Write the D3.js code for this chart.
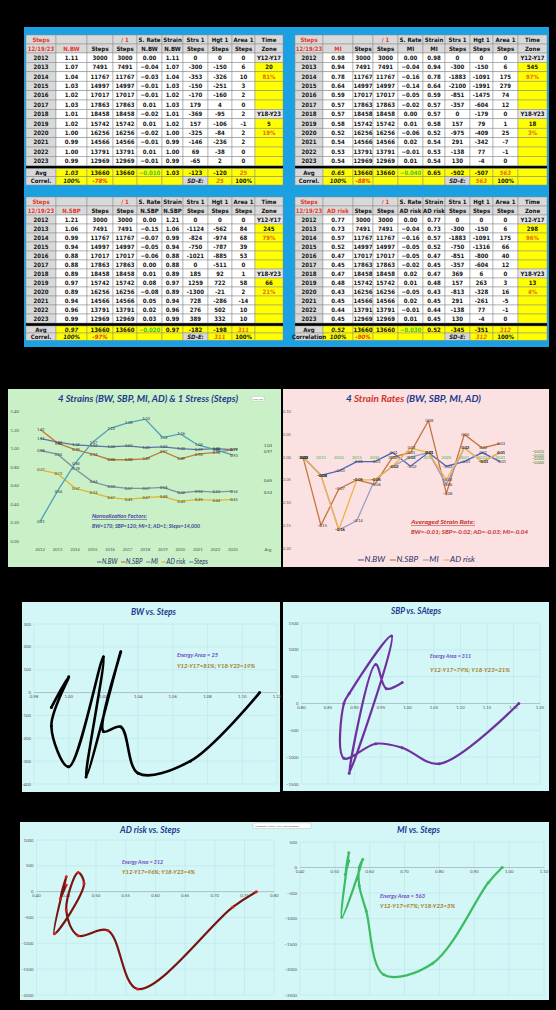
<!DOCTYPE html>
<html><head><meta charset="utf-8">
<script src="https://cdn.jsdelivr.net/npm/d3@7"></script>
<style>
html,body{margin:0;padding:0;background:#000;}
svg{display:block;}
.tb text{font-family:"Liberation Sans Narrow","DejaVu Sans Condensed","Liberation Sans",Arial,sans-serif;font-weight:bold;font-size:6px;}
.ch text{font-family:"Lato","Open Sans","Liberation Sans",sans-serif;}
</style></head><body>
<svg id="c" width="556" height="1010"></svg>
<script>
// ---------- data ----------
const years = [2012,2013,2014,2015,2016,2017,2018,2019,2020,2021,2022,2023];
const steps = [3000,7491,11767,14997,17017,17863,18458,15742,16256,14566,13791,12969];
const stepsNorm = [0.21,0.54,0.84,1.07,1.22,1.28,1.32,1.12,1.16,1.04,0.99,0.93];

const nBW   = [1.11,1.07,1.04,1.03,1.02,1.03,1.01,1.02,1.00,0.99,1.00,0.99];
const nSBP  = [1.21,1.06,0.99,0.94,0.88,0.88,0.89,0.97,0.89,0.94,0.96,0.99];
const mi    = [0.98,0.94,0.78,0.64,0.59,0.57,0.57,0.58,0.52,0.54,0.53,0.54];
const adRisk= [0.77,0.73,0.57,0.52,0.47,0.45,0.47,0.48,0.43,0.45,0.44,0.45];

const rateBW  = [0.00,-0.04,-0.03,-0.01,-0.01,0.01,-0.02,0.01,-0.02,-0.01,0.01,-0.01];
const rateSBP = [0.00,-0.15,-0.07,-0.05,-0.06,0.00,0.01,0.08,-0.08,0.05,0.02,0.03];
const rateMI  = [0.00,-0.04,-0.16,-0.14,-0.05,-0.02,0.00,0.01,-0.06,0.02,-0.01,0.01];
const rateAD  = [0.00,-0.04,-0.16,-0.05,-0.05,-0.02,0.02,0.01,-0.05,0.02,-0.01,0.01];

const strsBW  = [0,-300,-353,-150,-170,179,-369,157,-325,-146,69,-65];
const strsSBP = [0,-1124,-824,-750,-1021,0,185,1259,-1300,728,276,389];
const strsMI  = [0,-300,-1883,-2100,-851,-357,0,157,-975,291,-138,130];
const strsAD  = [0,-300,-1883,-750,-851,-357,369,157,-813,291,-138,130];

const hgtBW  = [0,-150,-326,-251,-160,4,-95,-106,-84,-236,-38,2];
const hgtSBP = [0,-562,-974,-787,-885,-511,92,722,-21,-286,502,332];
const hgtMI  = [0,-150,-1091,-1991,-1475,-604,-179,79,-409,-342,77,-4];
const hgtAD  = [0,-150,-1091,-1316,-800,-604,6,263,-328,-261,77,-4];

const areaBW  = [0,6,10,3,2,0,2,-1,2,2,0,0];
const areaSBP = [0,84,68,39,53,0,1,58,2,-14,10,10];
const areaMI  = [0,6,175,279,74,12,0,1,25,-7,-1,0];
const areaAD  = [0,6,175,66,40,12,0,3,16,-5,-1,0];

// summary rows (order: BW, MI, SBP, AD)
const avgStrain = [1.03,0.65,0.97,0.52];
const avgSteps  = [13660,13660,13660,13660];
const avgRate   = [-0.010,-0.040,-0.020,-0.030];
const avgStrs   = [-123,-502,-182,-345];
const avgHgt    = [-120,-507,-198,-351];
const energyArea= [25,563,311,312];
const correl    = ["-78%","-88%","-97%","-90%"];
const zoneEarly = [20,545,245,298];
const zoneLate  = [5,18,66,13];
const pctEarly  = ["81%","97%","79%","96%"];
const pctLate   = ["19%","3%","21%","4%"];
const corrLabel = ["Correl.","Correl.","Correl.","Correlation"];

const catAxis = years.map(String).concat([" ","Avg"]);
const seriesNames = ["N.BW","N.SBP","MI","AD risk","Steps"];

// ---------- canvas ----------
const svg = d3.select("#c");
svg.append("rect").attr("width",556).attr("height",1010).attr("fill","#000");

// ---------- tables ----------
const tb = svg.append("g").attr("class","tb");
tb.append("rect").attr("x",24).attr("y",27).attr("width",525).attr("height",320).attr("fill","#1ba1e2");

const GRAY="#d9d9d9", WHITE="#ffffff", YEL="#ffff00", RED="#e8352b", ORG="#e86a10", GRN="#36c832";
const f2 = d3.format(".2f"), f3 = d3.format(".3f");

function drawTable(cols, lay, metric, strain, rate, strs, hgt, area, k) {
  const g = tb.append("g");
  const rows = [];
  let y = lay.top;
  const C = (t, fill, color, it) => ({t:String(t), fill:fill||WHITE, color:color||"#111", it:!!it});
  rows.push({y, h:lay.hHead, cells:[C("Steps",GRAY,RED),C("",GRAY),C("",GRAY),C("/ 1",GRAY,RED),C("S. Rate",GRAY),C("Strain",GRAY),C("Strs 1",GRAY),C("Hgt 1",GRAY),C("Area 1",GRAY),C("Time",GRAY)]});
  y += lay.hHead;
  rows.push({y, h:lay.hHead, cells:[C("12/19/23",GRAY,RED),C(metric,GRAY,RED),C("Steps",GRAY),C("Steps",GRAY),C(metric,GRAY),C(metric,GRAY),C("Steps",GRAY),C("Steps",GRAY),C("Steps",GRAY),C("Zone",GRAY)]});
  y += lay.hHead;
  years.forEach((yr,i) => {
    let tz;
    if (i===0) tz = C("Y12-Y17","#e6e6e6");
    else if (i===6) tz = C("Y18-Y23","#e6e6e6");
    else if (i===1) tz = C(zoneEarly[k],YEL);
    else if (i===2) tz = C(pctEarly[k],YEL,ORG);
    else if (i===7) tz = C(zoneLate[k],YEL);
    else if (i===8) tz = C(pctLate[k],YEL,ORG);
    else tz = C("",YEL);
    rows.push({y, h:lay.hRow, cells:[C(yr,GRAY),C(f2(strain[i])),C(steps[i]),C(steps[i]),C(f2(rate[i])),C(f2(strain[i])),C(strs[i]),C(hgt[i]),C(area[i]),tz]});
    y += lay.hRow;
  });
  g.append("rect").attr("x",cols[0]).attr("y",y).attr("width",cols[10]-cols[0]).attr("height",lay.sep).attr("fill","#000");
  y += lay.sep;
  rows.push({y, h:lay.hAvg, cells:[C("Avg",GRAY),C(f2(avgStrain[k]),YEL,"#222",true),C(avgSteps[k],YEL),C(avgSteps[k],YEL),C(f3(avgRate[k]),YEL,GRN),C(f2(avgStrain[k]),YEL),C(avgStrs[k],YEL),C(avgHgt[k],YEL),C(energyArea[k],YEL,ORG,true),C("",YEL)]});
  y += lay.hAvg;
  rows.push({y, h:lay.hCor, cells:[C(corrLabel[k],GRAY),C("100%",YEL,"#222",true),C(correl[k],YEL,RED,true),C("",YEL),C("",YEL),C("",YEL),C("SD-E:",GRAY,"#222",true),C(energyArea[k],YEL,ORG,true),C("100%",YEL),C("",YEL)]});

  rows.forEach(r => {
    const rg = g.append("g");
    rg.selectAll("rect").data(r.cells).join("rect")
      .attr("x",(d,j)=>cols[j]).attr("y",r.y)
      .attr("width",(d,j)=>cols[j+1]-cols[j]).attr("height",r.h)
      .attr("fill",d=>d.fill).attr("stroke","#8c8c8c").attr("stroke-width",0.5);
    rg.selectAll("text").data(r.cells).join("text")
      .attr("x",(d,j)=>(cols[j]+cols[j+1])/2).attr("y",r.y+r.h/2+2.1)
      .attr("text-anchor","middle").attr("fill",d=>d.color)
      .attr("font-style",d=>d.it?"italic":"normal")
      .text(d=>d.t);
  });
}
const leftCols  = [26,56,87,113,137,162,183,208,232,255,283];
const rightCols = [295,323,353,373,398,423,445,470,493,518,547];
const layTop = {top:35, hHead:9, hRow:9.4, sep:2.8, hAvg:8, hCor:8.4};
const layBot = {top:197, hHead:9, hRow:9.0, sep:3, hAvg:7, hCor:7.2};
drawTable(leftCols, layTop, "N.BW", nBW, rateBW, strsBW, hgtBW, areaBW, 0);
drawTable(rightCols, layTop, "MI", mi, rateMI, strsMI, hgtMI, areaMI, 1);
drawTable(leftCols, layBot, "N.SBP", nSBP, rateSBP, strsSBP, hgtSBP, areaSBP, 2);
drawTable(rightCols, layBot, "AD risk", adRisk, rateAD, strsAD, hgtAD, areaAD, 3);

// ---------- charts ----------
const ch = svg.append("g").attr("class","ch");

function title(g, txt, cx, y, w, parts) {
  const t = g.append("text").attr("x",cx).attr("y",y).attr("text-anchor","middle")
    .attr("font-size",9).attr("font-weight","bold").attr("font-style","italic")
    .attr("textLength",w).attr("lengthAdjust","spacingAndGlyphs");
  if (parts) parts.forEach(p => t.append("tspan").attr("fill",p[1]).text(p[0]));
  else t.attr("fill","#1f3b8f").text(txt);
}
function note(g, x, y, txt, color, w, size, underline) {
  g.append("text").attr("x",x).attr("y",y).attr("fill",color)
    .attr("font-size",size||5.2).attr("font-style","italic").attr("font-weight","bold")
    .attr("textLength",w).attr("lengthAdjust","spacingAndGlyphs")
    .attr("text-decoration",underline?"underline":null).text(txt);
}
function legend(g, x0, y, items, w) {
  const lg = g.append("g");
  let x = x0;
  items.forEach(it => {
    lg.append("line").attr("x1",x).attr("x2",x+5).attr("y1",y-2).attr("y2",y-2)
      .attr("stroke",it[1]).attr("stroke-width",1.2);
    const t = lg.append("text").attr("x",x+5.5).attr("y",y).attr("font-size",7)
      .attr("font-style","italic").attr("fill","#2a2f6a").text(it[0]);
    x += 5.5 + t.node().getComputedTextLength() + 4;
  });
  const s = w/(x-4-x0);
  lg.attr("transform",`translate(${x0},0) scale(${s},1) translate(${-x0},0)`);
}

// Chart 1: strains and normalized steps
{
  const g = ch.append("g");
  g.append("rect").attr("x",8).attr("y",389).attr("width",273).attr("height",178).attr("fill","#c9f0c6");
  const x = d3.scalePoint().domain(catAxis).range([40,268]);
  const y = d3.scaleLinear().domain([0,1.4]).range([541,411.7]);
  const yt = d3.range(0,1.41,0.2);
  g.append("g").selectAll("text").data(yt).join("text")
    .attr("x",19).attr("y",d=>y(d)+1.5).attr("text-anchor","end")
    .attr("font-size",4.3).attr("fill","#555").text(d=>f2(d));
  g.append("g").selectAll("text").data(catAxis).join("text")
    .attr("x",d=>x(d)).attr("y",551).attr("text-anchor","middle")
    .attr("font-size",4.2).attr("fill","#555").text(d=>d);
  const sets = [
    {v:nBW, c:"#5b74a8", avg:avgStrain[0]},
    {v:nSBP, c:"#c57a35", avg:avgStrain[2]},
    {v:mi, c:"#7f93a6", avg:avgStrain[1]},
    {v:adRisk, c:"#e4b432", avg:avgStrain[3]},
    {v:stepsNorm, c:"#4f9fbd"}
  ];
  const line = d3.line().x((d,i)=>x(String(years[i]))).y(d=>y(d));
  sets.forEach(s => {
    g.append("path").attr("d",line(s.v)).attr("fill","none").attr("stroke",s.c).attr("stroke-width",1.3);
  });
  sets.forEach(s => {
    g.append("g").selectAll("text").data(s.v).join("text")
      .attr("x",(d,i)=>x(String(years[i]))+1).attr("y",d=>y(d)+1.4)
      .attr("text-anchor","middle").attr("font-size",3.8).attr("fill","#333").text(d=>f2(d));
    if (s.avg!==undefined)
      g.append("text").attr("x",x("Avg")).attr("y",y(s.avg)+1.4).attr("text-anchor","middle")
        .attr("font-size",4).attr("fill","#333").text(f2(s.avg));
  });
  title(g,"4 Strains (BW, SBP, MI, AD) & 1 Stress (Steps)",148,402,180);
  g.append("rect").attr("x",252).attr("y",396.5).attr("width",12).attr("height",4.5).attr("fill","#fff").attr("stroke","#aaa").attr("stroke-width",0.3);
  g.append("text").attr("x",258).attr("y",399.7).attr("text-anchor","middle").attr("font-size",2.4).attr("fill","#444").text("Plot Area");
  note(g,92,518,"Normalization Factors:","#4b3fa0",55,5.2,true);
  note(g,92,528,"BW=170; SBP=120; MI=1; AD=1; Steps=14,000","#3b3f9a",108,5.2);
  legend(g,97,564,seriesNames.map((n,i)=>[n,sets[i].c]),111);
}

// Chart 2: strain rates
{
  const g = ch.append("g");
  g.append("rect").attr("x",283).attr("y",389).attr("width",266).attr("height",178).attr("fill","#fbe1e1");
  const x = d3.scalePoint().domain(catAxis).range([303,536]);
  const y = d3.scaleLinear().domain([-0.20,0.10]).range([548,411.7]);
  const yt = [-0.20,-0.15,-0.10,-0.05,0,0.05,0.10];
  g.append("g").selectAll("text").data(yt).join("text")
    .attr("x",291).attr("y",d=>y(d)+1.5).attr("text-anchor","end")
    .attr("font-size",4.2).attr("fill","#666").text(d=>f2(d));
  g.append("g").selectAll("text").data(years).join("text")
    .attr("x",d=>x(String(d))).attr("y",y(0)+2).attr("text-anchor","middle")
    .attr("font-size",4.2).attr("fill","#3db44a").text(d=>d);
  const sets = [
    {v:rateBW, c:"#4c66b6"},
    {v:rateSBP, c:"#c4773f"},
    {v:rateMI, c:"#9a9cc6"},
    {v:rateAD, c:"#efb446"}
  ];
  const line = d3.line().x((d,i)=>x(String(years[i]))).y(d=>y(d));
  sets.forEach(s => g.append("path").attr("d",line(s.v)).attr("fill","none").attr("stroke",s.c).attr("stroke-width",1.3));
  sets.forEach(s => {
    g.append("g").selectAll("text").data(s.v).join("text")
      .attr("x",(d,i)=>x(String(years[i]))+1).attr("y",d=>y(d)+1.4)
      .attr("text-anchor","middle").attr("font-size",3.9).attr("fill","#333").text(d=>f2(d));
  });
  const avgOrder = [avgRate[0],avgRate[2],avgRate[3],avgRate[1]];
  g.append("g").selectAll("text").data(avgOrder).join("text")
    .attr("x",x("Avg")+2).attr("y",(d,i)=>453+i*3.6).attr("text-anchor","middle")
    .attr("font-size",3.8).attr("fill","#2f7d2f").text(d=>f3(d));
  title(g,null,413.5,402,135,[["4 ","#1f3b8f"],["Strain Rates ","#d0342c"],["(BW, SBP, MI, AD)","#1f3b8f"]]);
  note(g,411,524,"Averaged Strain Rate:","#c0302a",64,5.2,true);
  note(g,411,533.5,"BW=-0.01; SBP=-0.02; AD=-0.03; MI=-0.04","#c0302a",117,5.2);
  legend(g,358,562,seriesNames.slice(0,4).map((n,i)=>[n,sets[i].c]),117);
}

// Scatter charts: strain vs. stress, joined by a smoothed line in year order
function scatter(o) {
  const g = ch.append("g");
  g.append("rect").attr("x",o.box[0]).attr("y",o.box[1]).attr("width",o.box[2]).attr("height",o.box[3]).attr("fill","#d3f6f7");
  const x = d3.scaleLinear().domain(o.xd).range(o.xr);
  const y = d3.scaleLinear().domain(o.yd).range(o.yr);
  const xt = d3.range(o.xd[0], o.xd[1]+o.xs/2, o.xs);
  const yt = d3.range(o.yd[0], o.yd[1]+o.ys/2, o.ys);
  g.append("g").selectAll("line").data(xt).join("line")
    .attr("x1",d=>x(d)).attr("x2",d=>x(d)).attr("y1",o.yr[0]).attr("y2",o.yr[1])
    .attr("stroke","#b9e3e5").attr("stroke-width",0.5);
  g.append("g").selectAll("line").data(yt).join("line")
    .attr("x1",o.xr[0]).attr("x2",o.xr[1]).attr("y1",d=>y(d)).attr("y2",d=>y(d))
    .attr("stroke","#b9e3e5").attr("stroke-width",0.5);
  g.append("line").attr("x1",o.xr[0]).attr("x2",o.xr[1]).attr("y1",y(0)).attr("y2",y(0)).attr("stroke","#9aa").attr("stroke-width",0.6);
  g.append("g").selectAll("text").data(yt).join("text")
    .attr("x",o.xr[0]-3).attr("y",d=>y(d)+1.5).attr("text-anchor","end")
    .attr("font-size",4.3).attr("fill","#555").text(d=>d3.format("d")(d));
  g.append("g").selectAll("text").data(xt).join("text")
    .attr("x",d=>x(d)).attr("y",y(0)+5.5).attr("text-anchor","middle")
    .attr("font-size",4.3).attr("fill","#555").text(d=>f2(d));
  const pts = o.xv.map((v,i)=>[x(v), y(o.yv[i])]);
  g.append("path").attr("d",d3.line().curve(d3.curveCatmullRom.alpha(0.5))(pts))
    .attr("fill","none").attr("stroke",o.c).attr("stroke-width",o.w).attr("stroke-linejoin","round");
  g.append("g").selectAll("circle").data(pts).join("circle")
    .attr("cx",d=>d[0]).attr("cy",d=>d[1]).attr("r",1.5).attr("fill",o.mc||o.c);
  title(g,o.title,o.tc[0],o.tc[1],o.tw);
  note(g,o.note[0],o.note[1],"Energy Area = "+o.area,"#6b4bc2",o.nw[0],5.2);
  note(g,o.note[0],o.note[1]+o.note[2],`Y12-Y17=${o.pe}; Y18-Y23=${o.pl}`,"#a87a22",o.nw[1],5.2);
  return g;
}

scatter({box:[22,602,258,190], xd:[0.98,1.12], xs:0.02, xr:[34,277], yd:[-400,300], ys:100, yr:[784,624],
  xv:nBW, yv:strsBW, c:"#000", w:2.6, title:"BW vs. Steps", tc:[153.5,615], tw:45,
  note:[177,657,10.5], nw:[41,78], area:energyArea[0], pe:pctEarly[0], pl:pctLate[0]});
scatter({box:[283,602,266,189], xd:[0.80,1.25], xs:0.05, xr:[301.5,540], yd:[-1500,1500], ys:500, yr:[784,623],
  xv:nSBP, yv:strsSBP, c:"#7031a0", w:2.2, title:"SBP vs. SAteps", tc:[416,614], tw:50,
  note:[430,658,14], nw:[41,80], area:energyArea[2], pe:pctEarly[2], pl:pctLate[2]});
scatter({box:[20,822,262,178], xd:[0.40,0.80], xs:0.05, xr:[36.5,274.3], yd:[-2000,1000], ys:500, yr:[995,840],
  xv:adRisk, yv:strsAD, c:"#7a1410", mc:"#e02020", w:2.2, title:"AD risk vs. Steps", tc:[150,833], tw:60,
  note:[122,864,10], nw:[41,73], area:energyArea[3], pe:pctEarly[3], pl:pctLate[3]});
scatter({box:[281,822,268,178], xd:[0.40,1.10], xs:0.10, xr:[300,544], yd:[-2500,500], ys:500, yr:[995,842],
  xv:mi, yv:strsMI, c:"#3cbc62", w:2.2, title:"MI vs. Steps", tc:[418.5,833], tw:43,
  note:[380,898,10], nw:[45,75], area:energyArea[1], pe:pctEarly[1], pl:pctLate[1]});

// hover hint box left over the gridlines
ch.append("rect").attr("x",253).attr("y",823).attr("width",58).attr("height",5.5).attr("fill","#fff").attr("stroke","#999").attr("stroke-width",0.3);
ch.append("text").attr("x",255).attr("y",826.8).attr("font-size",2.6).attr("fill","#444").text("Horizontal (Value) Axis Major Gridlines");
</script>
</body></html>
